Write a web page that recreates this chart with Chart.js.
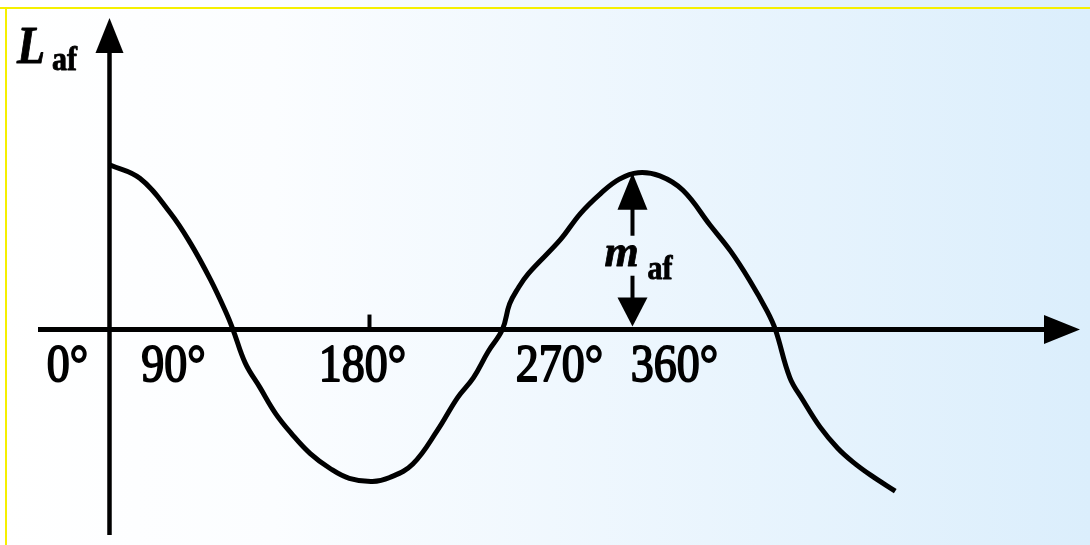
<!DOCTYPE html>
<html>
<head>
<meta charset="utf-8">
<script src="https://cdn.jsdelivr.net/npm/chart.js@4/dist/chart.umd.min.js"></script>
<style>
  html, body { margin: 0; padding: 0; background: #ffffff; }
  #wrap { width: 1090px; height: 545px; }
</style>
</head>
<body>
<div id="wrap"><canvas id="c" width="1090" height="545"></canvas></div>
<script>
// Phase angle (degrees) along the curve
const angles = [0, 21, 42, 56, 70, 81, 85.5, 94, 104, 115, 126, 139, 153, 166, 182,
  194, 210, 227, 241, 252, 262, 272, 277, 283, 290, 312, 326, 340, 353, 366,
  381, 397, 416, 430, 443, 455, 461, 471, 480, 492, 504, 515, 527, 544];
// L_af value at each angle
const lafValues = [1.03, 0.945, 0.73, 0.54, 0.31, 0.10, 0.0, -0.21, -0.36, -0.525, -0.65, -0.775, -0.87, -0.93, -0.95,
  -0.925, -0.84, -0.63, -0.425, -0.30, -0.14, 0.0, 0.16, 0.26, 0.35, 0.56, 0.725, 0.85, 0.94, 0.98,
  0.96, 0.87, 0.65, 0.49, 0.31, 0.12, 0.0, -0.30, -0.44, -0.61, -0.74, -0.83, -0.91, -1.01];
// Angle tick labels
const tickValues = [0, 90, 180, 270, 360];
const tickLabels = ['0°', '90°', '180°', '270°', '360°'];
// Tick mark drawn on the axis
const tickMarks = [180];
// Amplitude marker
const amplitudeAt = 360;
const amplitudePeak = 0.98;

const points = angles.map((a, i) => ({ x: a, y: lafValues[i] }));

const serif = '"Liberation Serif", "Times New Roman", serif';

const backdrop = {
  id: 'backdrop',
  beforeDraw(chart) {
    const { ctx, width, height } = chart;
    ctx.save();
    const g = ctx.createLinearGradient(0, 0, width, 0);
    g.addColorStop(0, '#ffffff');
    g.addColorStop(0.25, '#fbfdff');
    g.addColorStop(1, '#dbeefc');
    ctx.fillStyle = g;
    ctx.fillRect(0, 0, width, height);
    // frame edges
    ctx.fillStyle = '#f5f000';
    ctx.fillRect(0, 7, width, 2);
    ctx.fillRect(5, 7, 2, height - 7);
    ctx.restore();
  }
};

function textStretched(ctx, str, x, y, font, sy, align, weight) {
  ctx.save();
  ctx.font = font;
  ctx.textAlign = align || 'center';
  ctx.textBaseline = 'alphabetic';
  ctx.translate(x, y);
  ctx.scale(1, sy);
  ctx.fillText(str, 0, 0);
  if (weight) {
    ctx.lineWidth = weight;
    ctx.lineJoin = 'round';
    ctx.strokeText(str, 0, 0);
  }
  ctx.restore();
}

const axesArrows = {
  id: 'axesArrows',
  afterDatasetsDraw(chart) {
    const { ctx, chartArea } = chart;
    const xs = chart.scales.x, ys = chart.scales.y;
    const x0 = xs.getPixelForValue(0);
    const y0 = ys.getPixelForValue(0);
    ctx.save();
    ctx.fillStyle = '#000';
    ctx.strokeStyle = '#000';
    ctx.lineCap = 'butt';

    // horizontal axis
    ctx.lineWidth = 5;
    ctx.beginPath();
    ctx.moveTo(chartArea.left, y0);
    ctx.lineTo(chartArea.right - 30, y0);
    ctx.stroke();
    ctx.beginPath();
    ctx.moveTo(chartArea.right, y0);
    ctx.lineTo(chartArea.right - 36, y0 - 14.5);
    ctx.lineTo(chartArea.right - 36, y0 + 14.5);
    ctx.closePath();
    ctx.fill();

    // vertical axis
    ctx.lineWidth = 4.5;
    ctx.beginPath();
    ctx.moveTo(x0, chartArea.bottom);
    ctx.lineTo(x0, chartArea.top + 30);
    ctx.stroke();
    ctx.beginPath();
    ctx.moveTo(x0, chartArea.top);
    ctx.lineTo(x0 - 14, chartArea.top + 35);
    ctx.lineTo(x0 + 14, chartArea.top + 35);
    ctx.closePath();
    ctx.fill();

    // tick marks
    ctx.lineWidth = 4;
    tickMarks.forEach(v => {
      const px = xs.getPixelForValue(v);
      ctx.beginPath();
      ctx.moveTo(px, y0);
      ctx.lineTo(px, y0 - 15);
      ctx.stroke();
    });

    // tick labels, set below and beside the axis
    const nudge = [-42, -66, -7, 60, 45];
    tickValues.forEach((v, i) => {
      const px = xs.getPixelForValue(v) + nudge[i];
      textStretched(ctx, tickLabels[i], px, y0 + 51, '46px ' + serif, 1.13, 'center', 1.6);
    });

    // axis title L_af
    textStretched(ctx, 'L', 17, 63, 'italic bold 46px ' + serif, 1.13, 'left', 0.8);
    textStretched(ctx, 'af', 52, 70, 'bold 30px ' + serif, 1.13, 'left', 0.8);

    // amplitude marker m_af
    const ax = xs.getPixelForValue(amplitudeAt) + 3;
    const top = ys.getPixelForValue(amplitudePeak);
    ctx.lineWidth = 4;
    ctx.beginPath();
    ctx.moveTo(ax, top + 30);
    ctx.lineTo(ax, top + 63);
    ctx.stroke();
    ctx.beginPath();
    ctx.moveTo(ax, top);
    ctx.lineTo(ax - 15, top + 37);
    ctx.lineTo(ax + 15, top + 37);
    ctx.closePath();
    ctx.fill();
    ctx.beginPath();
    ctx.moveTo(ax, top + 103);
    ctx.lineTo(ax, y0 - 28);
    ctx.stroke();
    ctx.beginPath();
    ctx.moveTo(ax, y0 - 3);
    ctx.lineTo(ax - 15, y0 - 32);
    ctx.lineTo(ax + 15, y0 - 32);
    ctx.closePath();
    ctx.fill();
    textStretched(ctx, 'm', ax - 28, top + 93, 'italic bold 44px ' + serif, 1.0, 'left', 0.8);
    textStretched(ctx, 'af', ax + 15, top + 106, 'bold 30px ' + serif, 1.13, 'left', 0.8);

    ctx.restore();
  }
};

new Chart(document.getElementById('c'), {
  type: 'line',
  data: {
    datasets: [{
      data: points,
      borderColor: '#000000',
      borderWidth: 5,
      pointRadius: 0,
      fill: false,
      tension: 0.4
    }]
  },
  options: {
    responsive: false,
    animation: false,
    events: [],
    layout: { padding: { left: 38, right: 10, top: 18, bottom: 10 } },
    plugins: { legend: { display: false }, tooltip: { enabled: false } },
    scales: {
      x: {
        type: 'linear',
        min: -49.5, max: 671.9,
        display: false
      },
      y: {
        type: 'linear',
        min: -1.284, max: 1.947,
        display: false
      }
    }
  },
  plugins: [backdrop, axesArrows]
});
</script>
</body>
</html>
